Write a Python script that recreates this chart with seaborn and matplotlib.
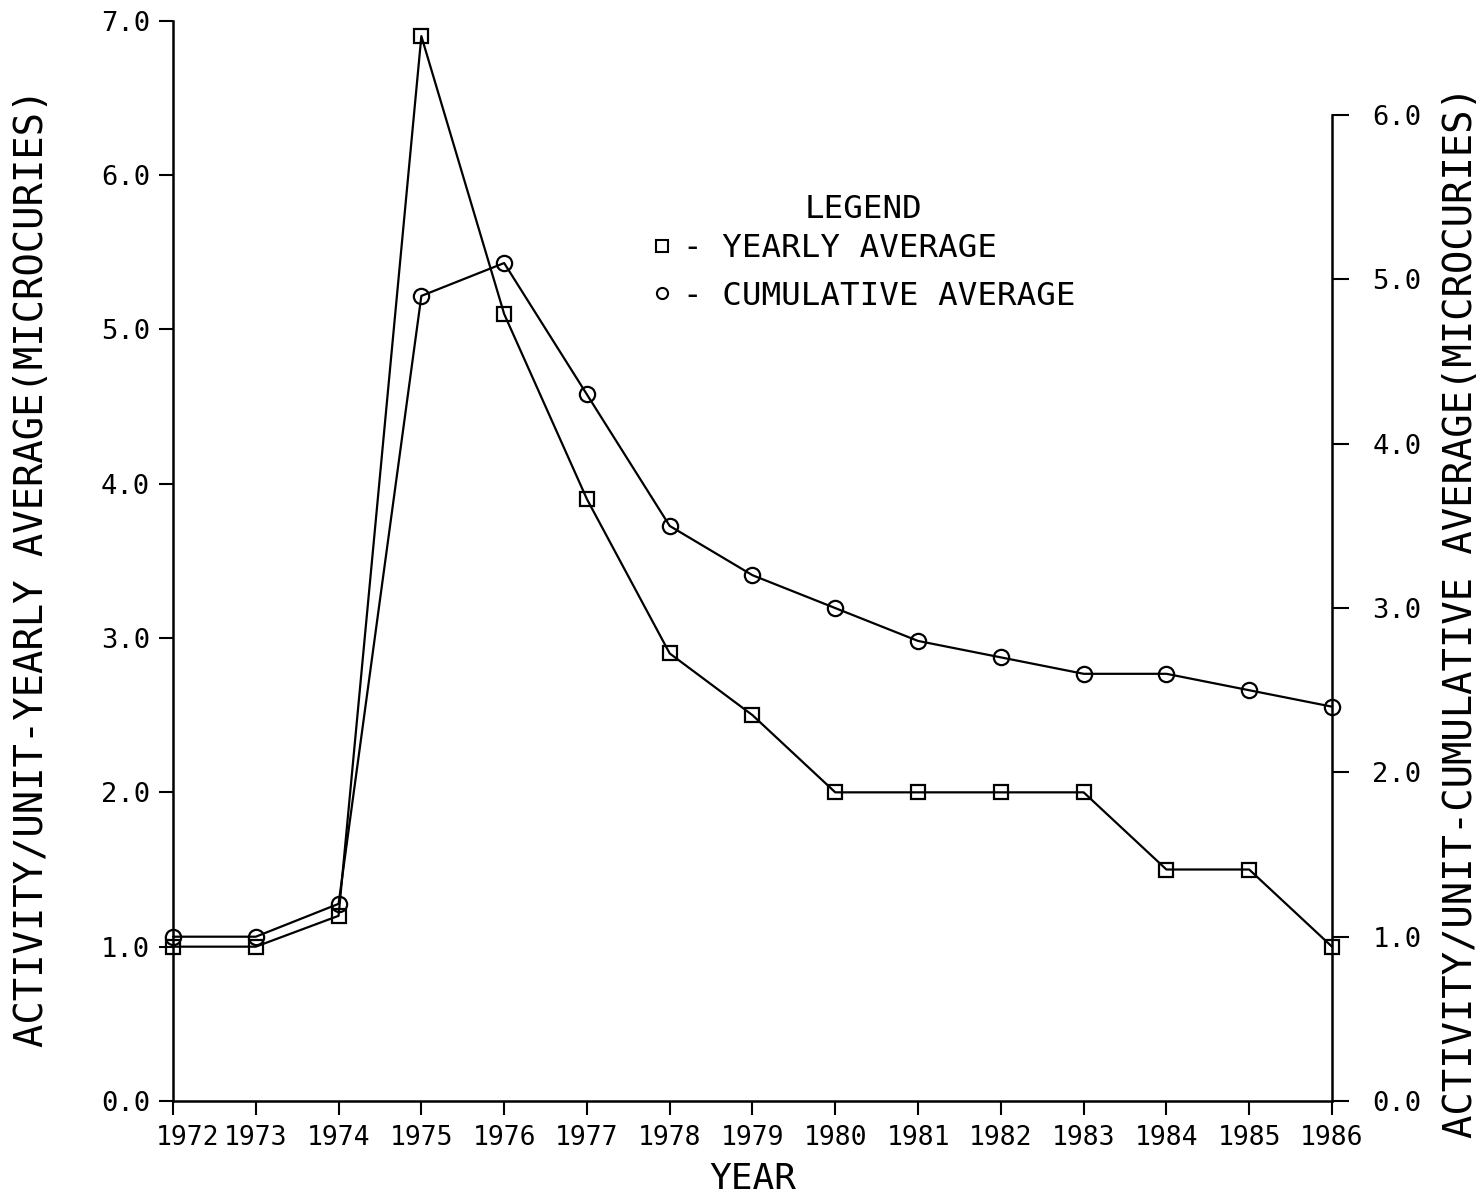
import matplotlib
matplotlib.use('Agg')
import matplotlib.pyplot as plt
import matplotlib.transforms as mtransforms
from matplotlib.lines import Line2D
import pandas as pd
import seaborn as sns

# values
years = [1972, 1973, 1974, 1975, 1976, 1977, 1978, 1979, 1980,
         1981, 1982, 1983, 1984, 1985, 1986]
yearly_avg = [1.0, 1.0, 1.2, 6.9, 5.1, 3.9, 2.9, 2.5, 2.0,
              2.0, 2.0, 2.0, 1.5, 1.5, 1.0]
cumulative_avg = [1.0, 1.0, 1.2, 4.9, 5.1, 4.3, 3.5, 3.2, 3.0,
                  2.8, 2.7, 2.6, 2.6, 2.5, 2.4]
left_ticks = [0, 1, 2, 3, 4, 5, 6, 7]
right_ticks = [0, 1, 2, 3, 4, 5, 6]
year_labels = [str(y) for y in years]

df = pd.DataFrame({'year': years, 'yearly': yearly_avg,
                   'cumulative': cumulative_avg})

sns.set_style('ticks', rc={'axes.edgecolor': 'black', 'xtick.color': 'black',
                           'ytick.color': 'black', 'text.color': 'black',
                           'axes.labelcolor': 'black'})
plt.rcParams['font.family'] = ['DejaVu Sans Mono']

W, H = 1480, 1199
fig = plt.figure(figsize=(W / 100, H / 100), dpi=100)
ax = fig.add_axes([173 / W, 1 - 1101 / H, (1332 - 173) / W, (1101 - 20.7) / H])
ax2 = ax.twinx()

line_kw = dict(color='black', linewidth=1.6, markerfacecolor='none',
               markeredgecolor='black', markeredgewidth=1.6, clip_on=False)
sns.lineplot(data=df, x='year', y='yearly', ax=ax, marker='s',
             markersize=10, **line_kw)
sns.lineplot(data=df, x='year', y='cumulative', ax=ax2, marker='o',
             markersize=11, **line_kw)

ax.set_xlim(1972, 1986)
ax.set_ylim(0, 7)
ax2.set_ylim(0, 6.575)

ax.set_xticks(years)
ax.set_xticklabels(year_labels, fontsize=19)
ax.set_yticks(left_ticks)
ax.set_yticklabels([f'{t:.1f}' for t in left_ticks], fontsize=19.5)
ax2.set_yticks(right_ticks)
ax2.set_yticklabels([f'{t:.1f}' for t in right_ticks], fontsize=19.5)

ax.tick_params(axis='x', direction='out', length=10, width=1.5, pad=7)
ax.tick_params(axis='y', direction='out', length=10, width=1.5, pad=6.5)
ax2.tick_params(axis='y', direction='out', length=12, width=1.5, pad=17)

for s in ['top', 'right']:
    ax.spines[s].set_visible(False)
for s in ['top', 'left', 'bottom']:
    ax2.spines[s].set_visible(False)
ax.spines['left'].set_linewidth(1.8)
ax.spines['bottom'].set_linewidth(1.8)
ax2.spines['right'].set_linewidth(1.8)
ax.spines['left'].set_bounds(0, 7)
ax2.spines['right'].set_bounds(0, 6)

# the first year label sits a little to the right in the original
lbl = ax.get_xticklabels()[0]
lbl.set_transform(lbl.get_transform() +
                  mtransforms.ScaledTranslation(0.15, 0, fig.dpi_scale_trans))

ax.set_xlabel('YEAR', fontsize=26, va='baseline')
ax.xaxis.set_label_coords(0.5, (1101 - 1189) / 1080.3)
ax.set_ylabel('ACTIVITY/UNIT-YEARLY AVERAGE(MICROCURIES)', fontsize=28,
              va='baseline')
ax.yaxis.set_label_coords((43 - 173) / 1159, 0.4934)
ax2.set_ylabel('ACTIVITY/UNIT-CUMULATIVE AVERAGE(MICROCURIES)', fontsize=28,
               va='baseline')
ax2.yaxis.set_label_coords((1472 - 173) / 1159, 0.4527)

# legend
fig.text(863 / W, 1 - 210 / H, 'LEGEND', ha='center', va='center',
         fontsize=23.4)
handles = [Line2D([], [], marker='s', linestyle='none', markersize=8,
                  markerfacecolor='none', markeredgecolor='black',
                  markeredgewidth=1.5),
           Line2D([], [], marker='o', linestyle='none', markersize=8,
                  markerfacecolor='none', markeredgecolor='black',
                  markeredgewidth=1.5)]
ax2.legend(handles=handles, labels=['- YEARLY AVERAGE', '- CUMULATIVE AVERAGE'],
           loc='center left', bbox_to_anchor=(652 / W, 1 - 272.5 / H),
           bbox_transform=fig.transFigure, frameon=False, fontsize=23.4,
           handlelength=0.6, handletextpad=0.35, borderpad=0,
           borderaxespad=0, labelspacing=0.5)

fig.savefig('out.png', dpi=100)
